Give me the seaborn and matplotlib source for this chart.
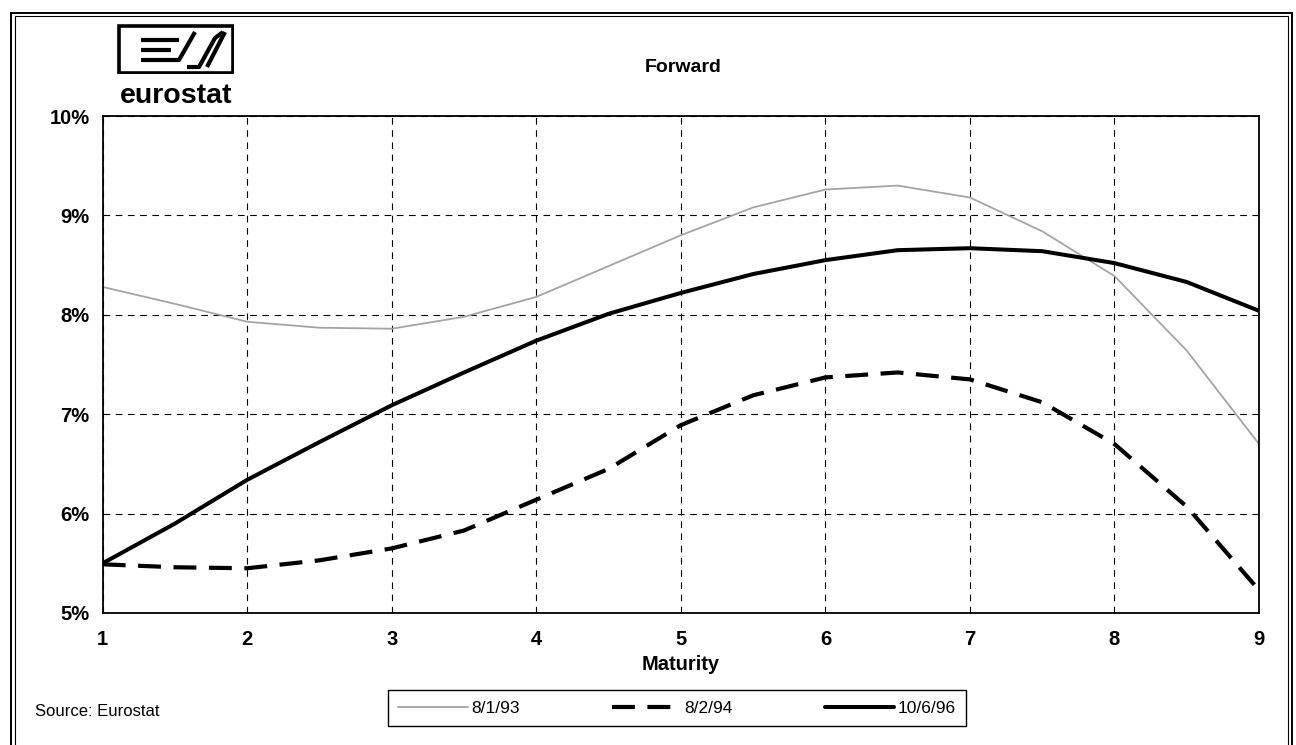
import numpy as np
import pandas as pd
import matplotlib
matplotlib.use("Agg")
import matplotlib.pyplot as plt
from matplotlib.patches import Rectangle
from matplotlib.lines import Line2D
import seaborn as sns

# ---- data ----
maturity = [1, 1.5, 2, 2.5, 3, 3.5, 4, 4.5, 5, 5.5, 6, 6.5, 7, 7.5, 8, 8.5, 9]
s_930801 = [8.28, 8.11, 7.93, 7.87, 7.86, 7.98, 8.18, 8.49, 8.80, 9.08, 9.26, 9.30, 9.18, 8.84, 8.39, 7.64, 6.70]
s_940802 = [5.49, 5.46, 5.45, 5.53, 5.65, 5.83, 6.14, 6.45, 6.89, 7.19, 7.37, 7.42, 7.35, 7.12, 6.70, 6.07, 5.23]
s_960610 = [5.50, 5.90, 6.34, 6.72, 7.09, 7.42, 7.74, 8.01, 8.22, 8.41, 8.55, 8.65, 8.67, 8.64, 8.52, 8.33, 8.04]
labels = ["8/1/93", "8/2/94", "10/6/96"]
x_ticks = [1, 2, 3, 4, 5, 6, 7, 8, 9]
y_ticks = [5, 6, 7, 8, 9, 10]
title = "Forward"
x_label = "Maturity"
source = "Source: Eurostat"

sns.set_theme(style="white")
plt.rcParams["font.family"] = ["Liberation Sans", "DejaVu Sans"]
plt.rcParams["text.color"] = "black"
plt.rcParams["axes.labelcolor"] = "black"

W, H = 1296, 745
fig = plt.figure(figsize=(W / 100, H / 100), dpi=100)
ax = fig.add_axes([102.7 / W, 1 - 613 / H, (1259 - 102.7) / W, (613 - 116) / H])

df = pd.DataFrame({"Maturity": maturity, labels[0]: s_930801,
                   labels[1]: s_940802, labels[2]: s_960610})

sns.lineplot(data=df, x="Maturity", y=labels[0], ax=ax, color="#a4a4a4",
             linewidth=1.3, label=labels[0])
sns.lineplot(data=df, x="Maturity", y=labels[1], ax=ax, color="black",
             linewidth=3.0, label=labels[1])
ax.lines[-1].set_dashes((5.5, 3))
sns.lineplot(data=df, x="Maturity", y=labels[2], ax=ax, color="black",
             linewidth=2.9, label=labels[2])

ax.set_xlim(1, 9)
ax.set_ylim(5, 10)
ax.set_xticks(x_ticks)
ax.set_yticks(y_ticks)
ax.set_xticklabels([str(v) for v in x_ticks])
ax.set_yticklabels([f"{v}%" for v in y_ticks])
ax.tick_params(axis="both", labelsize=14.5, colors="black", direction="inout",
               length=7, width=0.8, pad=9)
ax.tick_params(axis="y", pad=6)
ax.grid(True, color="black", linestyle=(0, (6, 5)), linewidth=0.8)
for sp in ax.spines.values():
    sp.set_visible(True)
    sp.set_color("black")
    sp.set_linewidth(1.3)
ax.set_xlabel(x_label, fontsize=14.5, fontweight="bold", labelpad=4, color="black")
ax.set_ylabel("")
for t in ax.get_xticklabels() + ax.get_yticklabels():
    t.set_fontweight("bold")

# legend
leg = ax.legend(loc="center", ncol=3, bbox_to_anchor=(388 / W, 1 - 726 / H, 578 / W, 36 / H),
                bbox_transform=fig.transFigure, mode="expand", frameon=True, fancybox=False,
                edgecolor="black", fontsize=12.5, handlelength=4.0, handletextpad=0.2,
                borderpad=0.6, borderaxespad=0, framealpha=1)
leg.get_frame().set_linewidth(1.0)
for t in leg.get_texts():
    t.set_color("black")

# title and source
fig.text(683 / W, 1 - 68 / H, title, ha="center", va="center", fontsize=14,
         fontweight="bold", color="black")
fig.text(35 / W, 1 - 711 / H, source, ha="left", va="center", fontsize=12, color="black")

# outer double frame
for x0, y0, x1, y1, lw in [(11, 13, 1292, 760, 1.4), (15, 16, 1288, 760, 0.8)]:
    fig.patches.append(Rectangle((x0 / W, 1 - y1 / H), (x1 - x0) / W, (y1 - y0) / H,
                                 transform=fig.transFigure, fill=False,
                                 edgecolor="black", linewidth=lw, clip_on=False))

# eurostat logo
lax = fig.add_axes([117 / W, 1 - 74 / H, 117 / W, 50 / H])
lax.set_xlim(0, 117)
lax.set_ylim(50, 0)
lax.axis("off")
lax.add_patch(Rectangle((1.5, 1.5), 114, 47, fill=False, edgecolor="black", linewidth=2.6))
segs = [
    [(24, 16), (62, 16)],
    [(24, 26), (54, 26)],
    [(24, 36), (62, 36), (78, 8)],
    [(70, 43), (82, 43), (98, 14), (106, 8)],
    [(90, 43), (108, 8)],
]
for s in segs:
    xs, ys = zip(*s)
    lax.add_line(Line2D(xs, ys, color="black", linewidth=3.0, solid_capstyle="butt"))
fig.text(176 / W, 1 - 96 / H, "eurostat", ha="center", va="center", fontsize=20.5,
         fontweight="bold", color="black")

fig.savefig("out.png", dpi=100, facecolor="white")
